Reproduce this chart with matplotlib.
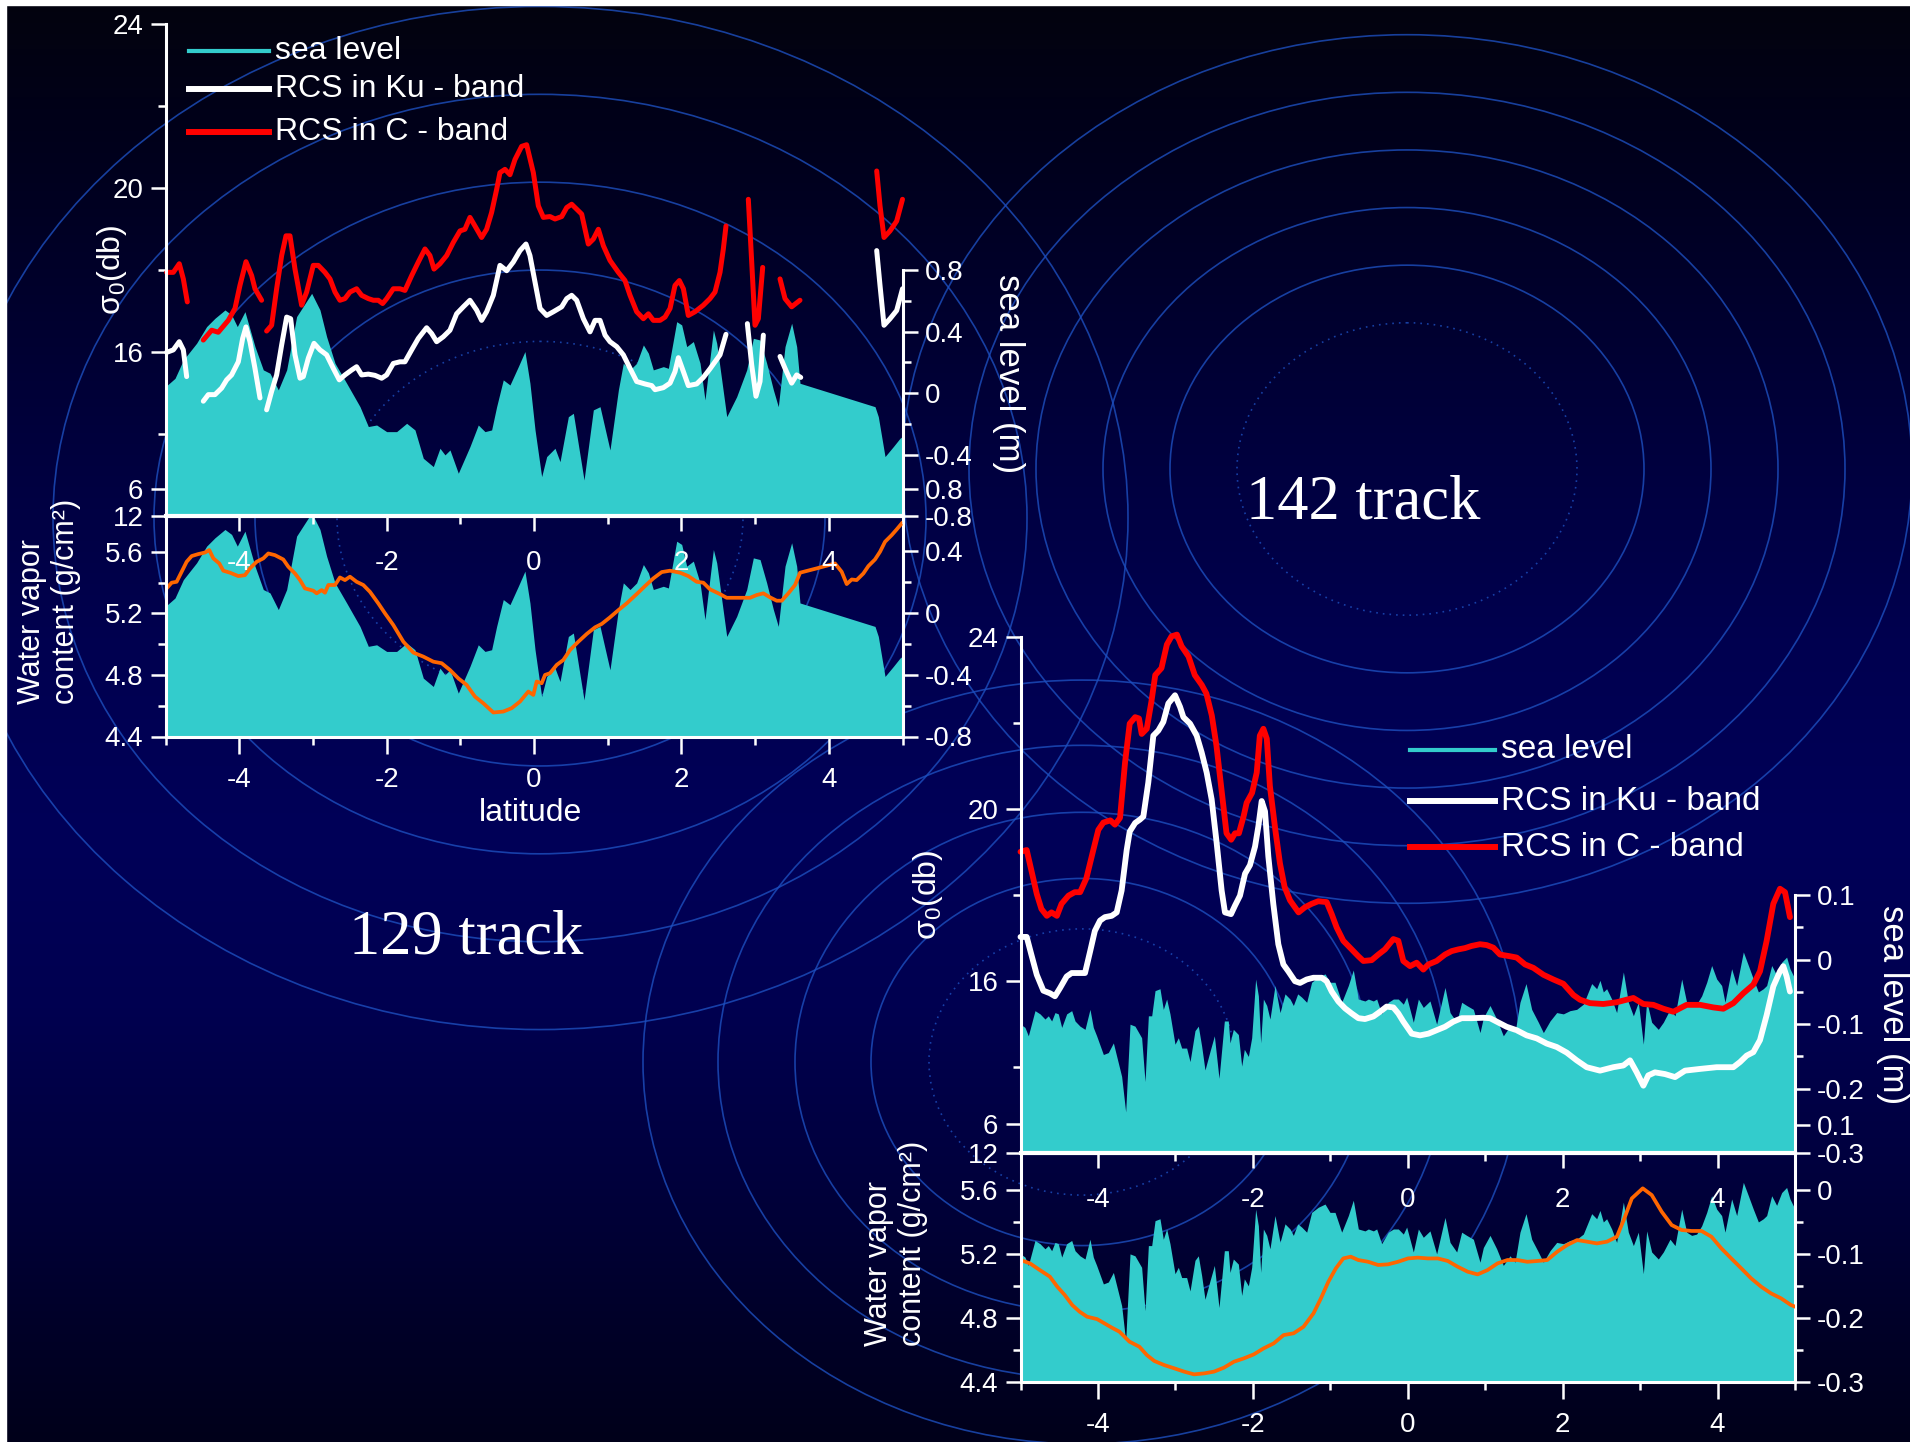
import numpy as np
import matplotlib
matplotlib.use('Agg')
import matplotlib.pyplot as plt
from matplotlib.patches import Ellipse, Rectangle
from matplotlib.lines import Line2D

plt.rcParams['font.family'] = ['Liberation Sans', 'DejaVu Sans']
plt.rcParams['axes.unicode_minus'] = False
plt.rcParams['mathtext.fontset'] = 'custom'
plt.rcParams['mathtext.rm'] = 'Liberation Sans'
plt.rcParams['mathtext.it'] = 'Liberation Sans:italic'

nan = float('nan')

# ---------------- track 129 (left) ----------------
lat129_sl = [-5.0, -4.871, -4.758, -4.578, -4.442, -4.329, -4.193, -4.103, -4.026, -3.922, -3.786, -3.673,
             -3.582, -3.469, -3.356, -3.221, -3.017, -2.904, -2.814, -2.700, -2.542, -2.361, -2.248, -2.135,
             -1.999, -1.864, -1.728, -1.615, -1.502, -1.366, -1.276, -1.208, -1.140, -1.027, -0.869, -0.756,
             -0.665, -0.575, -0.507, -0.417, -0.326, -0.213, -0.123, -0.055, 0.014, 0.104, 0.172, 0.285,
             0.353, 0.466, 0.534, 0.679, 0.805, 0.896, 1.031, 1.145, 1.212, 1.303, 1.393, 1.484, 1.552,
             1.619, 1.755, 1.823, 1.936, 2.004, 2.072, 2.162, 2.253, 2.320, 2.434, 2.479, 2.547, 2.615,
             2.750, 2.886, 2.976, 3.067, 3.157, 3.248, 3.315, 3.406, 3.496, 3.564, 3.609, 4.627, 4.672,
             4.763, 4.876, 4.966, 5.0]
sl129 = [0.043, 0.097, 0.216, 0.325, 0.433, 0.487, 0.541, 0.509, 0.433, 0.530, 0.303, 0.152, 0.130, 0.022,
         0.152, 0.498, 0.649, 0.541, 0.368, 0.195, 0.065, -0.087, -0.216, -0.206, -0.249, -0.249, -0.195,
         -0.238, -0.422, -0.476, -0.357, -0.400, -0.368, -0.519, -0.346, -0.206, -0.249, -0.238, -0.087,
         0.087, 0.054, 0.173, 0.271, 0.065, -0.238, -0.541, -0.411, -0.357, -0.444, -0.152, -0.130, -0.563,
         -0.108, -0.087, -0.368, 0.022, 0.195, 0.152, 0.195, 0.314, 0.260, 0.152, 0.173, 0.162, 0.465,
         0.444, 0.303, 0.336, 0.195, -0.043, 0.411, 0.325, 0.087, -0.152, -0.022, 0.152, 0.357, 0.346,
         0.195, 0.022, -0.087, 0.303, 0.455, 0.303, 0.065, -0.087, -0.152, -0.411, -0.346, -0.292, -0.28]

lat129_c = [-4.985, -4.894, -4.813, -4.758, -4.704, nan,
            -4.487, -4.374, -4.284, -4.148, -4.057, -3.990, -3.908, -3.831, -3.786, -3.696, nan,
            -3.628, -3.560, -3.492, -3.424, -3.365, -3.311, -3.243, -3.153, -3.085, -2.995, -2.927, -2.836,
            -2.768, -2.700, -2.633, -2.565, -2.497, -2.407, -2.339, -2.248, -2.180, -2.113, -2.054, -1.999,
            -1.909, -1.819, -1.751, -1.660, -1.570, -1.479, -1.412, -1.357, -1.276, -1.185, -1.095, -1.004,
            -0.937, -0.869, -0.801, -0.711, -0.643, -0.575, -0.507, -0.462, -0.394, -0.326, -0.258, -0.168,
            -0.100, -0.009, 0.059, 0.127, 0.217, 0.285, 0.376, 0.444, 0.511, 0.579, 0.647, 0.737, 0.805,
            0.873, 0.941, 1.031, 1.145, 1.235, 1.303, 1.393, 1.484, 1.552, 1.619, 1.710, 1.778, 1.846,
            1.913, 1.972, 2.027, 2.094, 2.185, 2.298, 2.388, 2.456, 2.524, 2.569, 2.605, nan,
            2.908, 2.954, 2.999, 3.044, 3.103, nan,
            3.338, 3.406, 3.496, 3.609, nan,
            4.650, 4.695, 4.749, 4.831, 4.921, 5.0]
c129 = [17.95, 17.95, 18.16, 17.79, 17.23, nan,
        16.30, 16.54, 16.49, 16.78, 17.07, 17.63, 18.21, 17.87, 17.55, 17.27, nan,
        16.52, 16.66, 17.55, 18.36, 18.84, 18.84, 18.03, 17.15, 17.47, 18.12, 18.12, 17.95, 17.79, 17.47,
        17.27, 17.31, 17.47, 17.55, 17.39, 17.31, 17.27, 17.27, 17.19, 17.31, 17.55, 17.55, 17.51, 17.87,
        18.20, 18.52, 18.36, 18.03, 18.16, 18.36, 18.68, 18.96, 19.00, 19.29, 19.08, 18.80, 19.00, 19.41,
        19.97, 20.38, 20.46, 20.33, 20.70, 21.02, 21.06, 20.38, 19.57, 19.29, 19.31, 19.25, 19.31, 19.53,
        19.61, 19.49, 19.37, 18.64, 18.76, 19.00, 18.60, 18.24, 17.95, 17.75, 17.39, 16.99, 16.82, 16.94,
        16.78, 16.78, 16.86, 17.07, 17.63, 17.75, 17.55, 16.90, 16.99, 17.15, 17.31, 17.47, 17.95, 18.52,
        19.08, nan,
        19.73, 18.20, 16.66, 16.82, 18.07, nan,
        17.79, 17.31, 17.11, 17.27, nan,
        20.42, 19.57, 18.80, 18.96, 19.20, 19.73]

lat129_ku = [-4.985, -4.894, -4.813, -4.758, -4.713, nan,
             -4.487, -4.419, -4.329, -4.238, -4.170, -4.103, -4.012, -3.953, -3.908, -3.854, -3.786, -3.718, nan,
             -3.628, -3.560, -3.492, -3.424, -3.356, -3.302, -3.243, -3.175, -3.130, -3.062, -2.985, -2.904,
             -2.814, -2.723, -2.642, -2.565, -2.474, -2.407, -2.339, -2.248, -2.158, -2.067, -1.999, -1.909,
             -1.819, -1.751, -1.660, -1.570, -1.457, -1.389, -1.321, -1.231, -1.140, -1.050, -0.959, -0.869,
             -0.778, -0.711, -0.643, -0.552, -0.462, -0.371, -0.281, -0.190, -0.109, -0.055, 0.014, 0.082,
             0.172, 0.263, 0.376, 0.444, 0.511, 0.579, 0.670, 0.760, 0.828, 0.896, 0.964, 1.031, 1.122,
             1.212, 1.303, 1.393, 1.506, 1.597, 1.642, 1.755, 1.846, 1.913, 1.959, 2.027, 2.094, 2.207,
             2.298, 2.388, 2.456, 2.524, 2.605, nan,
             2.895, 2.954, 3.012, 3.067, 3.112, nan,
             3.338, 3.406, 3.496, 3.564, 3.619, nan,
             4.650, 4.695, 4.749, 4.831, 4.921, 5.0]
ku129 = [16.00, 16.06, 16.26, 16.06, 15.41, nan,
         14.81, 14.97, 14.97, 15.13, 15.33, 15.45, 15.77, 16.34, 16.62, 16.26, 15.61, 14.89, nan,
         14.60, 15.05, 15.45, 16.18, 16.86, 16.82, 15.94, 15.37, 15.41, 15.86, 16.22, 16.06, 15.94, 15.61,
         15.33, 15.45, 15.57, 15.65, 15.45, 15.47, 15.44, 15.37, 15.45, 15.73, 15.77, 15.77, 16.06, 16.34,
         16.60, 16.46, 16.26, 16.38, 16.54, 16.94, 17.11, 17.27, 17.03, 16.78, 16.99, 17.39, 18.12, 17.99,
         18.20, 18.48, 18.64, 18.36, 17.71, 17.07, 16.90, 16.99, 17.11, 17.31, 17.39, 17.27, 16.82, 16.50,
         16.78, 16.78, 16.42, 16.26, 16.14, 15.94, 15.61, 15.29, 15.23, 15.19, 15.09, 15.14, 15.25, 15.53,
         15.87, 15.53, 15.19, 15.23, 15.39, 15.60, 15.77, 15.94, 16.44, nan,
         16.70, 15.69, 14.93, 15.29, 16.42, nan,
         15.90, 15.61, 15.25, 15.45, 15.39, nan,
         18.48, 17.63, 16.66, 16.82, 17.02, 17.55]

lat129_wv = [-4.985, -4.917, -4.849, -4.781, -4.713, -4.645, -4.555, -4.464, -4.406, -4.351, -4.270, -4.216,
             -4.125, -4.012, -3.922, -3.854, -3.763, -3.673, -3.605, -3.515, -3.402, -3.334, -3.243, -3.175,
             -3.108, -2.995, -2.949, -2.881, -2.836, -2.791, -2.700, -2.633, -2.565, -2.497, -2.407, -2.316,
             -2.226, -2.113, -2.022, -1.909, -1.773, -1.638, -1.502, -1.366, -1.253, -1.140, -1.027, -0.914,
             -0.801, -0.688, -0.552, -0.417, -0.303, -0.190, -0.077, -0.009, 0.036, 0.104, 0.150, 0.217,
             0.308, 0.398, 0.489, 0.602, 0.715, 0.828, 0.918, 1.031, 1.145, 1.258, 1.393, 1.506, 1.619,
             1.733, 1.846, 1.981, 2.094, 2.207, 2.298, 2.388, 2.524, 2.614, 2.750, 2.931, 3.022, 3.112,
             3.202, 3.293, 3.361, 3.451, 3.542, 3.610, 3.836, 4.084, 4.175, 4.243, 4.311, 4.378, 4.469,
             4.537, 4.627, 4.695, 4.763, 4.853, 4.921, 4.989]
wv129 = [5.362, 5.399, 5.405, 5.470, 5.535, 5.572, 5.585, 5.595, 5.611, 5.557, 5.524, 5.477, 5.464, 5.442,
         5.448, 5.492, 5.535, 5.557, 5.589, 5.578, 5.550, 5.503, 5.459, 5.416, 5.362, 5.347, 5.330, 5.351,
         5.334, 5.384, 5.384, 5.433, 5.416, 5.438, 5.405, 5.384, 5.340, 5.265, 5.200, 5.124, 5.016, 4.945,
         4.919, 4.886, 4.876, 4.832, 4.778, 4.735, 4.659, 4.616, 4.556, 4.562, 4.584, 4.627, 4.692, 4.670,
         4.757, 4.746, 4.800, 4.811, 4.865, 4.897, 4.962, 5.016, 5.066, 5.109, 5.131, 5.174, 5.221, 5.265,
         5.325, 5.377, 5.427, 5.468, 5.477, 5.464, 5.442, 5.405, 5.399, 5.356, 5.325, 5.301, 5.301, 5.301,
         5.319, 5.330, 5.304, 5.282, 5.282, 5.330, 5.384, 5.464, 5.492, 5.524, 5.470, 5.390, 5.420, 5.416,
         5.459, 5.507, 5.550, 5.600, 5.665, 5.708, 5.745, 5.784]

# ---------------- track 142 (right) ----------------
lat142_sl = [-5.0, -4.942, -4.899, -4.813, -4.748, -4.684, -4.641, -4.598, -4.555, -4.512, -4.468, -4.404,
             -4.339, -4.296, -4.232, -4.167, -4.103, -4.060, -4.017, -3.930, -3.866, -3.801, -3.737, -3.694,
             -3.642, -3.586, -3.522, -3.436, -3.392, -3.349, -3.306, -3.263, -3.199, -3.156, -3.113, -3.070,
             -3.005, -2.962, -2.919, -2.855, -2.811, -2.747, -2.704, -2.661, -2.618, -2.553, -2.497, -2.437,
             -2.368, -2.317, -2.295, -2.252, -2.187, -2.144, -2.110, -2.058, -2.015, -1.964, -1.929, -1.899,
             -1.864, -1.821, -1.779, -1.714, -1.649, -1.585, -1.520, -1.477, -1.421, -1.370, -1.305, -1.241,
             -1.155, -1.068, -1.004, -0.939, -0.853, -0.767, -0.703, -0.638, -0.552, -0.509, -0.444, -0.401,
             -0.337, -0.251, -0.186, -0.122, -0.057,
             -0.014, 0.072, 0.137, 0.201, 0.287, 0.373, 0.481, 0.546, 0.632, 0.696, 0.761, 0.847, 0.933,
             0.976, 1.062, 1.148, 1.234, 1.320, 1.385, 1.449, 1.527, 1.600, 1.686, 1.751, 1.837, 1.923,
             2.009, 2.095, 2.181, 2.267, 2.375, 2.439, 2.482, 2.525, 2.568, 2.633, 2.697, 2.784, 2.848,
             2.913, 2.977, 3.042, 3.085, 3.149, 3.235, 3.300, 3.386, 3.451, 3.537, 3.601, 3.666, 3.730,
             3.795, 3.860, 3.924, 3.989, 4.053, 4.096, 4.182, 4.247, 4.333, 4.398, 4.462, 4.527, 4.591,
             4.634, 4.699, 4.763, 4.828, 4.892, 4.935, 5.0]
sl142 = [-0.100, -0.105, -0.118, -0.079, -0.084, -0.092, -0.087, -0.095, -0.082, -0.084, -0.105, -0.084,
         -0.079, -0.095, -0.103, -0.108, -0.077, -0.105, -0.118, -0.147, -0.144, -0.129, -0.160, -0.181,
         -0.236, -0.100, -0.103, -0.121, -0.189, -0.087, -0.087, -0.048, -0.045, -0.077, -0.061, -0.084,
         -0.131, -0.121, -0.137, -0.137, -0.158, -0.110, -0.103, -0.134, -0.171, -0.142, -0.118, -0.184,
         -0.095, -0.095, -0.129, -0.108, -0.116, -0.165, -0.139, -0.150, -0.121, -0.030, -0.056, -0.129,
         -0.061, -0.071, -0.092, -0.040, -0.082, -0.053, -0.061, -0.071, -0.053, -0.058, -0.066, -0.035,
         -0.027, -0.022, -0.035, -0.035, -0.066, -0.040, -0.016, -0.061, -0.064, -0.061, -0.064, -0.061,
         -0.084, -0.066, -0.061, -0.061, -0.069,
         -0.058, -0.097, -0.061, -0.074, -0.064, -0.100, -0.043, -0.082, -0.097, -0.066, -0.071, -0.077,
         -0.113, -0.090, -0.071, -0.092, -0.118, -0.103, -0.113, -0.066, -0.037, -0.077, -0.097, -0.113,
         -0.095, -0.082, -0.084, -0.079, -0.077, -0.069, -0.037, -0.045, -0.032, -0.050, -0.045, -0.061,
         -0.082, -0.019, -0.066, -0.087, -0.066, -0.131, -0.064, -0.097, -0.108, -0.097, -0.077, -0.087,
         -0.030, -0.066, -0.071, -0.069, -0.056, -0.035, -0.009, -0.030, -0.040, -0.066, -0.014, -0.040,
         0.012, -0.009, -0.030, -0.050, -0.045, -0.040, -0.009, -0.024, -0.004, 0.004, -0.014, -0.030]

lat142_c = [-5.0, -4.92, -4.86, -4.79, -4.73, -4.66, -4.60, -4.53, -4.47, -4.38, -4.30, -4.23, -4.15, -4.06,
            -3.995, -3.93, -3.84, -3.78, -3.715, -3.65, -3.59, -3.52, -3.47, -3.435, -3.37, -3.31, -3.26,
            -3.18, -3.11, -3.05, -2.98, -2.92, -2.83, -2.75, -2.66, -2.60, -2.53, -2.47, -2.40, -2.34, -2.28,
            -2.23, -2.18, -2.12, -2.08, -2.01, -1.95, -1.91, -1.864, -1.82, -1.78, -1.71, -1.65, -1.59, -1.52,
            -1.41, -1.327, -1.24, -1.155, -1.047, -0.982, -0.918, -0.832, -0.724, -0.638, -0.573, -0.466,
            -0.380, -0.294, -0.186, -0.122, -0.057, 0.029, 0.115, 0.201, 0.266, 0.373, 0.481, 0.567, 0.653,
            0.739, 0.825, 0.933, 1.019, 1.105, 1.191, 1.320, 1.406, 1.514, 1.622, 1.751, 1.880, 2.009, 2.138,
            2.224, 2.353, 2.525, 2.697, 2.913, 3.042, 3.171, 3.300, 3.429, 3.601, 3.774, 3.946, 4.075, 4.204,
            4.333, 4.462, 4.548, 4.634, 4.720, 4.806, 4.871, 4.935]
c142 = [19.01, 19.05, 18.58, 18.03, 17.68, 17.52, 17.60, 17.52, 17.80, 17.99, 18.07, 18.07, 18.39, 19.05,
        19.52, 19.69, 19.74, 19.64, 19.80, 21.09, 21.99, 22.14, 22.11, 21.75, 21.87, 22.50, 23.12, 23.28,
        23.83, 24.02, 24.06, 23.79, 23.55, 23.12, 22.89, 22.69, 22.18, 21.48, 20.38, 19.44, 19.29, 19.44,
        19.44, 19.83, 20.15, 20.38, 20.85, 21.71, 21.87, 21.64, 20.54, 19.52, 18.74, 18.19, 17.88, 17.60,
        17.72, 17.80, 17.86, 17.84, 17.56, 17.25, 16.94, 16.74, 16.58, 16.47, 16.49, 16.62, 16.74, 16.98,
        16.94, 16.47, 16.35, 16.43, 16.27, 16.39, 16.47, 16.62, 16.70, 16.74, 16.77, 16.82, 16.86, 16.84,
        16.78, 16.62, 16.58, 16.55, 16.39, 16.31, 16.15, 16.04, 15.94, 15.68, 15.57, 15.49, 15.47, 15.51,
        15.61, 15.47, 15.45, 15.36, 15.29, 15.45, 15.45, 15.39, 15.36, 15.49, 15.72, 15.92, 16.23, 16.94,
        17.80, 18.15, 18.07, 17.49]

lat142_ku = [-5.0, -4.92, -4.86, -4.79, -4.705, -4.62, -4.555, -4.49, -4.404, -4.34, -4.23, -4.167, -4.10,
             -4.04, -3.973, -3.91, -3.823, -3.758, -3.694, -3.629, -3.59, -3.52, -3.457, -3.414, -3.35,
             -3.285, -3.22, -3.156, -3.091, -3.005, -2.94, -2.897, -2.811, -2.725, -2.661, -2.596, -2.532,
             -2.467, -2.403, -2.36, -2.282, -2.23, -2.166, -2.101, -2.037, -1.972, -1.929, -1.886, -1.843,
             -1.80, -1.736, -1.671, -1.606, -1.542, -1.456, -1.391, -1.305, -1.219, -1.111, -1.047, -0.982,
             -0.896, -0.81, -0.724, -0.638, -0.552, -0.444, -0.358, -0.272, -0.186, -0.122, -0.057, 0.051,
             0.158, 0.266, 0.373, 0.481, 0.589, 0.696, 0.825, 0.976, 1.062, 1.148, 1.277, 1.406, 1.535,
             1.665, 1.794, 1.923, 2.052, 2.181, 2.310, 2.482, 2.654, 2.784, 2.870, 2.956, 3.042, 3.106,
             3.192, 3.322, 3.451, 3.580, 3.774, 3.989, 4.204, 4.290, 4.376, 4.462, 4.548, 4.634, 4.720,
             4.806, 4.849, 4.892, 4.935]
ku142 = [17.03, 17.03, 16.62, 16.15, 15.78, 15.72, 15.65, 15.84, 16.11, 16.19, 16.19, 16.19, 16.70, 17.17,
         17.41, 17.49, 17.52, 17.60, 18.11, 19.05, 19.48, 19.68, 19.76, 19.83, 20.62, 21.71, 21.83, 22.03,
         22.46, 22.65, 22.38, 22.14, 21.99, 21.71, 21.32, 20.85, 20.23, 19.21, 18.11, 17.60, 17.56, 17.76,
         17.99, 18.50, 18.70, 19.13, 19.60, 20.19, 19.95, 18.90, 17.80, 16.86, 16.39, 16.23, 16.00, 15.96,
         16.04, 16.08, 16.08, 16.00, 15.76, 15.53, 15.37, 15.25, 15.14, 15.12, 15.18, 15.29, 15.41, 15.39,
         15.25, 15.06, 14.78, 14.74, 14.78, 14.86, 14.94, 15.06, 15.14, 15.14, 15.15, 15.14, 15.06, 14.94,
         14.86, 14.74, 14.67, 14.55, 14.47, 14.34, 14.16, 14.00, 13.92, 14.00, 14.04, 14.16, 13.88, 13.57,
         13.81, 13.88, 13.84, 13.77, 13.92, 13.96, 14.00, 14.00, 14.12, 14.27, 14.35, 14.63, 15.21, 15.88,
         16.23, 16.35, 16.11, 15.76]

lat142_wv = [-5.0, -4.878, -4.750, -4.621, -4.525, -4.429, -4.332, -4.236, -4.140, -4.011, -3.915, -3.819,
             -3.722, -3.594, -3.465, -3.369, -3.273, -3.144, -3.016, -2.887, -2.759, -2.630, -2.502, -2.373,
             -2.245, -2.117, -1.988, -1.860, -1.731, -1.603, -1.474, -1.346, -1.217, -1.121, -1.025, -0.928,
             -0.832, -0.736, -0.639, -0.511, -0.383, -0.254, -0.126, 0.003, 0.131, 0.260, 0.388, 0.517,
             0.645, 0.773, 0.902, 1.030, 1.159, 1.287, 1.416, 1.544, 1.673, 1.801, 1.930, 2.058, 2.187,
             2.315, 2.443, 2.572, 2.700, 2.797, 2.893, 3.034, 3.150, 3.278, 3.407, 3.535, 3.664, 3.792,
             3.921, 4.049, 4.177, 4.306, 4.434, 4.563, 4.691, 4.820, 4.948, 5.0]
wv142 = [5.162, 5.141, 5.099, 5.058, 4.995, 4.943, 4.880, 4.838, 4.807, 4.792, 4.765, 4.738, 4.713, 4.651,
         4.619, 4.567, 4.530, 4.504, 4.484, 4.463, 4.446, 4.452, 4.463, 4.488, 4.525, 4.546, 4.571, 4.609,
         4.640, 4.692, 4.703, 4.744, 4.828, 4.922, 5.026, 5.110, 5.172, 5.183, 5.162, 5.151, 5.131, 5.135,
         5.151, 5.172, 5.177, 5.172, 5.172, 5.156, 5.120, 5.089, 5.072, 5.099, 5.141, 5.162, 5.162, 5.151,
         5.156, 5.162, 5.214, 5.256, 5.287, 5.277, 5.266, 5.277, 5.308, 5.423, 5.548, 5.611, 5.569, 5.465,
         5.381, 5.350, 5.344, 5.344, 5.308, 5.235, 5.172, 5.110, 5.047, 4.995, 4.953, 4.922, 4.880, 4.870]

legend_labels = ['sea level', 'RCS in Ku - band', 'RCS in C - band']
sigma_ticks = [12, 12.67, 16, 20, 24]
sigma_ticklabels = ['12', '6', '16', '20', '24']
wv_ticks = [4.4, 4.8, 5.2, 5.6]
lat_ticks = [-4, -2, 0, 2, 4]

CYAN, ORANGE = '#33cccc', '#ff6600'
W, H = 1910, 1442
fig = plt.figure(figsize=(W / 100, H / 100), dpi=100)


def rect(x0, y0, x1, y1):
    return [x0 / W, 1 - y1 / H, (x1 - x0) / W, (y1 - y0) / H]


def ftext(x, y, s, **kw):
    kw.setdefault('color', 'white')
    return fig.text(x / W, 1 - y / H, s, **kw)


# background: dark gradient with concentric rings
bg = fig.add_axes([0, 0, 1, 1], zorder=-10)
bg.set_xlim(0, W); bg.set_ylim(H, 0); bg.axis('off')
t = np.linspace(0, 1, 500)
blue = np.interp(t, [0, .12, .3, .45, .58, .7, .82, .92, 1], [14, 30, 60, 80, 88, 80, 60, 40, 26]) / 255
rg = np.interp(t, [0, .1, 1], [3, 0, 0]) / 255
grad = np.stack([rg, rg, blue], axis=-1)[:, None, :]
bg.imshow(grad, extent=[0, W, H, 0], aspect='auto', interpolation='bilinear')
ring_sets = [((540, 518), [203, 285, 386, 487, 588], 0.87),
             ((1407, 469), [170, 237, 304, 371, 438, 505], 0.86),
             ((1082, 1062), [153, 211, 287, 364, 439], 0.87)]
for (cx, cy), rxs, k in ring_sets:
    for i, rx in enumerate(rxs):
        bg.add_patch(Ellipse((cx, cy), 2 * rx, 2 * rx * k, fill=False, ec='#1d4fbf', lw=1.2, alpha=0.8,
                             ls=(0, (1, 3)) if i == 0 else '-'))
bg.add_patch(Rectangle((0, 0), W, 5, color='white'))
bg.add_patch(Rectangle((0, 0), 6, H, color='white'))


def fmt(ax):
    ax.yaxis.set_major_formatter(lambda v, p: f'{v:g}')


def panel(box, sl_up, sl_lo, wv_top, sl_ticks, sl_labels, sl_minor, sl_bound, slb_ticks, slb_minor,
          lat_sl, sl, lat_ku, ku, lat_c, c, lat_wv, wv, lw):
    x0, x1, yt, ym, yb = box
    up, lo = rect(x0, yt, x1, ym), rect(x0, ym, x1, yb)
    axb2 = fig.add_axes(lo, zorder=1)
    axb = fig.add_axes(lo, zorder=2)
    axu2 = fig.add_axes(up, zorder=3)
    axu = fig.add_axes(up, zorder=4)
    for ax in (axb2, axb, axu2, axu):
        ax.patch.set_visible(False)
        ax.set_xlim(-5, 5)
        for s in ax.spines.values():
            s.set_visible(False); s.set_color('white'); s.set_linewidth(2.2)
        ax.tick_params(which='both', colors='white', width=1.8, labelsize=20, direction='out')
        ax.tick_params(which='major', length=11)
        ax.tick_params(which='minor', length=6)
    # sea level, filled, on right-hand scales
    for ax, lim in ((axu2, sl_up), (axb2, sl_lo)):
        ax.fill_between(lat_sl, sl, lim[0], color=CYAN, lw=0)
        ax.set_ylim(*lim)
        ax.xaxis.set_visible(False)
        ax.yaxis.tick_right()
        ax.spines['right'].set_visible(True)
        ax.tick_params(axis='y', pad=5)
    axu2.set_yticks(sl_ticks, sl_labels)
    axu2.set_yticks(sl_minor, minor=True)
    axu2.spines['right'].set_bounds(sl_up[0], sl_bound)
    axb2.set_yticks(slb_ticks); axb2.set_yticks(slb_minor, minor=True); fmt(axb2)
    # radar cross sections
    axu.plot(lat_ku, ku, color='white', lw=lw, solid_capstyle='round', solid_joinstyle='round', clip_on=False)
    axu.plot(lat_c, c, color='red', lw=lw, solid_capstyle='round', solid_joinstyle='round', clip_on=False)
    axu.set_ylim(12, 24)
    axu.set_yticks(sigma_ticks, sigma_ticklabels)
    axu.set_yticks([14, 18, 22], minor=True)
    axu.spines['left'].set_visible(True)
    axu.spines['bottom'].set_visible(True); axu.spines['bottom'].set_linewidth(3)
    axu.yaxis.tick_left(); axu.xaxis.tick_bottom()
    axu.set_xticks(lat_ticks); axu.set_xticks([-5, -3, -1, 1, 3, 5], minor=True)
    axu.tick_params(axis='x', pad=13)
    axu.tick_params(axis='y', pad=5)
    # water vapour
    axb.plot(lat_wv, wv, color=ORANGE, lw=2.7, solid_joinstyle='round')
    axb.set_ylim(4.4, wv_top)
    axb.set_yticks(wv_ticks); axb.set_yticks([4.6, 5.0, 5.4], minor=True); fmt(axb)
    axb.spines['left'].set_visible(True); axb.spines['bottom'].set_visible(True)
    axb.yaxis.tick_left(); axb.xaxis.tick_bottom()
    axb.set_xticks(lat_ticks); axb.set_xticks([-5, -3, -1, 1, 3, 5], minor=True)
    axb.tick_params(axis='x', which='major', length=12, pad=10)
    axb.tick_params(axis='y', pad=5)


panel((165.5, 902.5, 24.1, 516.5, 736.5), (-0.8, 2.397), (-0.8, 0.625), 5.829,
      [-0.8, -0.62, -0.4, 0, 0.4, 0.8], ['-0.8', '0.8', '-0.4', '0', '0.4', '0.8'], [-0.2, 0.2, 0.6], 0.8,
      [-0.8, -0.4, 0, 0.4], [-0.6, -0.2, 0.2],
      lat129_sl, sl129, lat129_ku, ku129, lat129_c, c129, lat129_wv, wv129, 3.6)
panel((1020.5, 1795, 637.2, 1153.2, 1381.7), (-0.3, 0.5), (-0.3, 0.0576), 5.831,
      [-0.3, -0.257, -0.2, -0.1, 0, 0.1], ['-0.3', '0.1', '-0.2', '-0.1', '0', '0.1'], [-0.15, -0.05, 0.05], 0.1,
      [-0.3, -0.2, -0.1, 0], [-0.25, -0.15, -0.05],
      lat142_sl, sl142, lat142_ku, ku142, lat142_c, c142, lat142_wv, wv142, 4.2)

# axis titles
ftext(530, 813, 'latitude', fontsize=23, ha='center', va='center')
ftext(112, 270, 'σ$_0$(db)', fontsize=23, rotation=90, ha='center', va='center')
ftext(928, 895, 'σ$_0$(db)', fontsize=23, rotation=90, ha='center', va='center')
ftext(1008, 374, 'sea level (m)', fontsize=25, rotation=270, ha='center', va='center')
ftext(1892, 1005, 'sea level (m)', fontsize=25, rotation=270, ha='center', va='center')
ftext(49, 704, 'Water vapor\ncontent (g/cm²)', fontsize=22, rotation=90, ha='center', va='bottom',
      multialignment='left', linespacing=1.15)
ftext(896, 1346, 'Water vapor\ncontent (g/cm²)', fontsize=22, rotation=90, ha='center', va='bottom',
      multialignment='left', linespacing=1.15)
ftext(466, 938, '129 track', fontsize=45, family='Liberation Serif', ha='center', va='center')
ftext(1363, 503, '142 track', fontsize=45, family='Liberation Serif', ha='center', va='center')


def legend(x0, x1, xt, ys, size):
    for y, col, lw, lab in zip(ys, [CYAN, 'white', 'red'], [3.0, 4.3, 4.3], legend_labels):
        fig.add_artist(Line2D([x0 / W, x1 / W], [1 - y / H] * 2, color=col, lw=lw))
        ftext(xt, y, lab, fontsize=size, ha='left', va='center')


legend(189, 269, 275, [51, 89, 132], 23)
legend(1410, 1495, 1501, [750, 801, 847], 24)

fig.savefig('out.png', dpi=100, facecolor='black')
